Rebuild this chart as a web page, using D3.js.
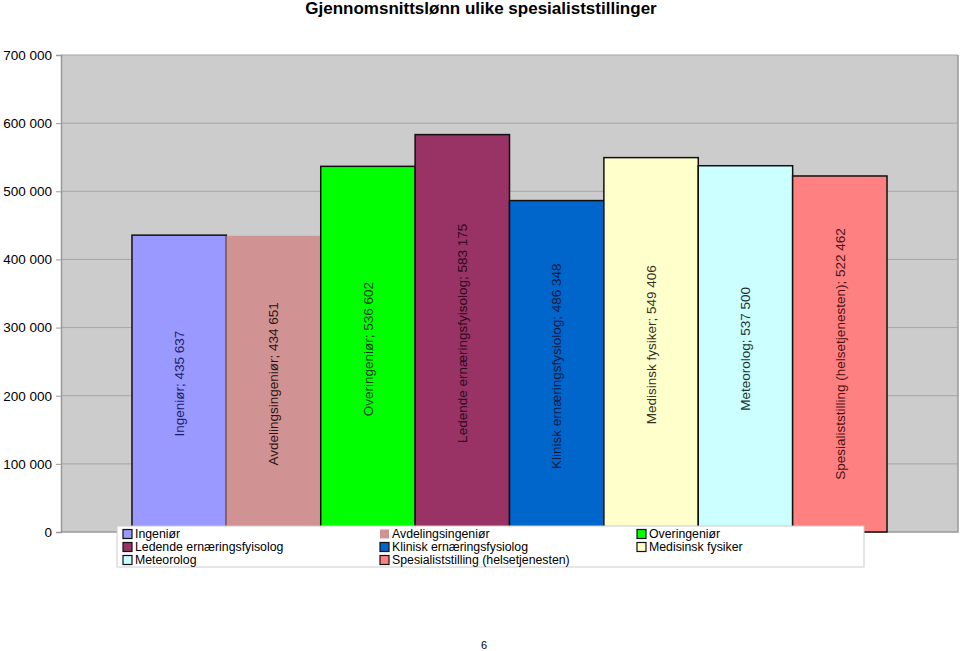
<!DOCTYPE html>
<html><head><meta charset="utf-8">
<script src="https://cdn.jsdelivr.net/npm/d3@7"></script>
<style>body{margin:0;background:#fff;} svg{display:block;font-family:"Liberation Sans",Arial,sans-serif;}</style>
</head><body>
<svg id="c" width="960" height="651"></svg>
<script>
const categories = ["Ingeniør","Avdelingsingeniør","Overingeniør","Ledende ernæringsfyisolog","Klinisk ernæringsfysiolog","Medisinsk fysiker","Meteorolog","Spesialiststilling (helsetjenesten)"];
const labelNames = ["Ingeniør","Avdelingsingeniør","Overingeniør","Ledende ernæringsfyisolog","Klinisk ernæringsfysiolog","Medisinsk fysiker","Meteorolog","Spesialiststilling (helsetjenesten)"];
const values = [435637,434651,536602,583175,486348,549406,537500,522462];
const colors = ["#9999ff","#d09292","#00ff00","#993366","#0066cc","#ffffcc","#ccffff","#ff8080"];
const labelColors = ["#1c1c66","#2a1515","#0a400a","#2a0a1a","#0a1840","#333322","#1a3333","#4a1010"];
const borders = [true,false,true,true,true,true,true,true];
const yTicks = [0,100000,200000,300000,400000,500000,600000,700000];
const title = "Gjennomsnittslønn ulike spesialiststillinger";

const svg = d3.select("#c");
const L=61,R=958,T=55,B=532;
const x = d3.scaleBand().domain(categories).range([L,R]).paddingInner(0).paddingOuter(0.752);
const y = d3.scaleLinear().domain([0,700000]).range([B,T]);
const fmt = v => v===0 ? "0" : d3.format(",")(v).replace(/,/g," ");

svg.append("rect").attr("x",L).attr("y",T).attr("width",R-L).attr("height",B-T).attr("fill","#cccccc");
svg.append("g").selectAll("line").data(yTicks.filter(d=>d>0)).join("line")
  .attr("x1",L).attr("x2",R).attr("y1",d=>y(d)).attr("y2",d=>y(d)).attr("stroke","#a6a6a6").attr("stroke-width",1);
svg.append("path").attr("d",`M${L},${B}H${R}V${T}`).attr("fill","none").attr("stroke","#999").attr("stroke-width",1.5);

const ax = svg.append("g").attr("transform",`translate(${L},0)`)
  .call(d3.axisLeft(y).tickValues(yTicks).tickFormat(fmt).tickSize(5).tickPadding(4));
ax.attr("font-size",13.5).attr("font-family","Liberation Sans, Arial, sans-serif");
ax.select(".domain").attr("stroke","#999").attr("stroke-width",1.5);
ax.selectAll(".tick line").attr("stroke","#999");
ax.selectAll("text").attr("fill","#000");

svg.append("g").selectAll("rect").data(values).join("rect")
  .attr("x",(d,i)=>x(categories[i])).attr("y",d=>y(d))
  .attr("width",x.bandwidth()).attr("height",d=>B-y(d))
  .attr("fill",(d,i)=>colors[i])
  .attr("stroke",(d,i)=>borders[i]?"#111":"none").attr("stroke-width",1.5);

svg.append("g").selectAll("text").data(values).join("text")
  .attr("transform",(d,i)=>`translate(${x(categories[i])+x.bandwidth()/2},${(y(d)+B)/2}) rotate(-90)`)
  .attr("text-anchor","middle").attr("dy","0.35em").attr("font-size",13.5)
  .attr("fill",(d,i)=>labelColors[i])
  .text((d,i)=>labelNames[i]+"; "+fmt(d));

svg.append("text").attr("x",481).attr("y",14).attr("text-anchor","middle")
  .attr("font-size",17).attr("font-weight","bold").text(title);

// legend
const lg = svg.append("g");
lg.append("rect").attr("x",117).attr("y",526).attr("width",747).attr("height",41).attr("fill","#fff").attr("stroke","#ccc");
const colX=[123,380,637], rowY=[534,547,560];
categories.forEach((c,i)=>{
  const cx=colX[i%3], cy=rowY[Math.floor(i/3)];
  lg.append("rect").attr("x",cx).attr("y",cy-4.5).attr("width",9).attr("height",9)
    .attr("fill",colors[i]).attr("stroke",borders[i]?"#111":"none").attr("stroke-width",1.2);
  lg.append("text").attr("x",cx+12).attr("y",cy).attr("dy","0.36em").attr("font-size",12.3).text(c);
});

svg.append("text").attr("x",484).attr("y",649).attr("text-anchor","middle").attr("font-size",11).text("6");
</script>
</body></html>
